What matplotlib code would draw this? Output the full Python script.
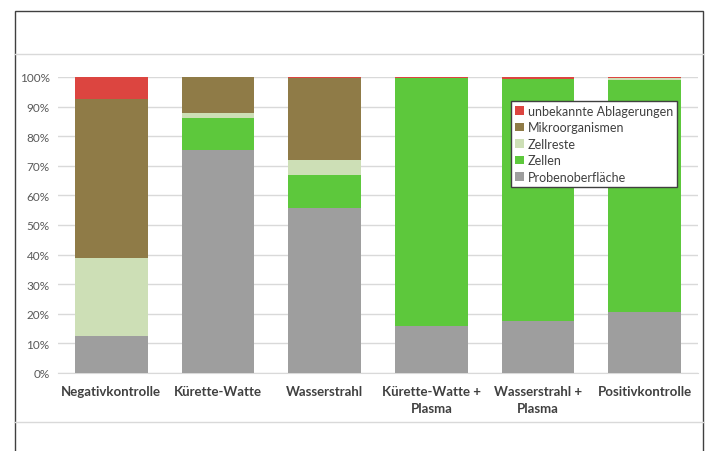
import matplotlib
matplotlib.use("Agg")
import matplotlib.pyplot as plt
from matplotlib.patches import Rectangle
from matplotlib.lines import Line2D
from matplotlib.ticker import PercentFormatter
import numpy as np

plt.rcParams['font.family'] = ['Lato', 'DejaVu Sans']

categories = ["Negativkontrolle", "Kürette-Watte", "Wasserstrahl",
              "Kürette-Watte +\nPlasma", "Wasserstrahl +\nPlasma", "Positivkontrolle"]

# Shares in percent, bottom to top
probenoberflaeche = [12.5, 75.5, 55.6, 15.8, 17.6, 20.7]
zellen            = [0.0, 10.5, 11.2, 83.7, 81.7, 78.3]
zellreste         = [26.2, 1.7, 5.2, 0.3, 0.1, 0.5]
mikroorganismen   = [53.8, 12.3, 27.7, 0.0, 0.0, 0.0]
unbekannt         = [7.5, 0.0, 0.3, 0.2, 0.6, 0.5]

series = [
    ("Probenoberfläche", probenoberflaeche, "#9E9E9E"),
    ("Zellen", zellen, "#5DC83C"),
    ("Zellreste", zellreste, "#CDDFB6"),
    ("Mikroorganismen", mikroorganismen, "#8F7B47"),
    ("unbekannte Ablagerungen", unbekannt, "#DC4540"),
]

W, H = 708, 452
fig = plt.figure(figsize=(W / 100, H / 100), dpi=100)

# outer chart frame and separator lines
fig.add_artist(Rectangle((15 / W, -0.05), (703 - 15) / W, (H - 12) / H + 0.05,
                         transform=fig.transFigure, fill=False,
                         edgecolor="#404040", linewidth=1.0))
for yy in (55, 423):
    fig.add_artist(Line2D([15 / W, 703 / W], [1 - yy / H, 1 - yy / H],
                          transform=fig.transFigure, color="#D9D9D9", linewidth=1.0))

ax = fig.add_axes([58 / W, 1 - 374 / H, (698 - 58) / W, (374 - 78) / H])

x = np.arange(len(categories))
bottom = np.zeros(len(categories))
handles = {}
for name, vals, col in series:
    vals = np.array(vals)
    b = ax.bar(x, vals, bottom=bottom, width=0.68, color=col, label=name, zorder=3)
    handles[name] = b
    bottom += vals

ax.set_xlim(-0.5, len(categories) - 0.5)
ax.set_ylim(0, 100)
ax.set_yticks(np.arange(0, 101, 10))
ax.yaxis.set_major_formatter(PercentFormatter(decimals=0))
ax.grid(axis="y", color="#D9D9D9", linewidth=1.0, zorder=0)
ax.set_axisbelow(True)
for s in ("top", "right", "left"):
    ax.spines[s].set_visible(False)
ax.spines["bottom"].set_color("#D9D9D9")
ax.tick_params(axis="both", length=0)
ax.tick_params(axis="y", labelsize=8.5, labelcolor="#595959", pad=6)
ax.set_xticks(x)
ax.set_xticklabels(categories, fontsize=9.5, fontweight="bold", color="#404040",
                   linespacing=1.45)
ax.tick_params(axis="x", pad=9)

order = ["unbekannte Ablagerungen", "Mikroorganismen", "Zellreste", "Zellen", "Probenoberfläche"]
leg = ax.legend([handles[n] for n in order], order,
                loc="upper left", bbox_to_anchor=((511 - 58) / (698 - 58), 1 - (102 - 78) / (374 - 78)),
                fontsize=9, frameon=True, fancybox=False, borderpad=0.3,
                handlelength=0.7, handleheight=0.7, handletextpad=0.35,
                labelspacing=0.36, borderaxespad=0)
leg.get_frame().set_edgecolor("#404040")
leg.get_frame().set_linewidth(1.0)
leg.get_frame().set_facecolor("white")
leg.get_frame().set_alpha(1.0)
for t in leg.get_texts():
    t.set_color("#404040")

fig.savefig("out.png", dpi=100)
